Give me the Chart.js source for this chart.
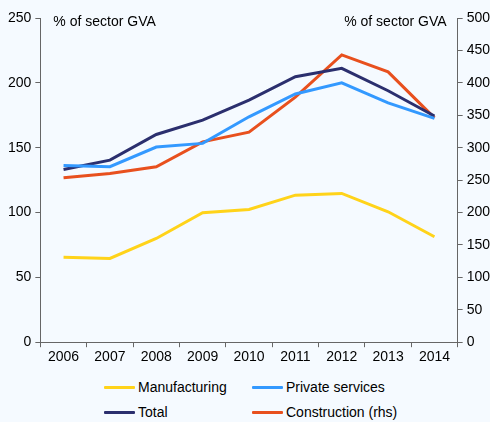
<!DOCTYPE html>
<html>
<head>
<meta charset="utf-8">
<script src="https://cdn.jsdelivr.net/npm/chart.js@4"></script>
<style>
  html, body { margin: 0; padding: 0; background: #f5faff; }
  body { width: 490px; height: 422px; overflow: hidden; font-family: "Liberation Sans", Arial, sans-serif; }
  #wrap { position: relative; width: 490px; height: 368px; }
  #legend { position: relative; width: 490px; height: 54px; font-size: 14px; color: #000; }
  .item { position: absolute; display: flex; align-items: center; }
  .swatch { width: 31px; height: 3px; margin-right: 3px; border-radius: 1px; }
</style>
</head>
<body>
<div id="wrap"><canvas id="chart" width="490" height="368"></canvas></div>
<div id="legend"></div>
<script>
const years = ["2006", "2007", "2008", "2009", "2010", "2011", "2012", "2013", "2014"];
const manufacturing = [65.6, 64.6, 80, 99.8, 102.4, 113.4, 114.7, 100.6, 81.3];
const privateServices = [136.3, 135.3, 150.5, 153.3, 173.8, 191.4, 200, 184.6, 172.6];
const total = [133.2, 140.4, 160.2, 171.3, 186.7, 204.7, 211.2, 193.9, 174.4];
const construction = [253.5, 260.3, 270.5, 309, 324, 378, 443, 417, 346]; // rhs

const legendItems = [
  { label: "Manufacturing", color: "#ffd31a", x: 104, y: 12 },
  { label: "Private services", color: "#3399ff", x: 252, y: 12 },
  { label: "Total", color: "#2b2f6e", x: 104, y: 37 },
  { label: "Construction (rhs)", color: "#e8501e", x: 252, y: 37 }
];

const FONT = { size: 14, family: "'Liberation Sans', Arial" };

const axisTitles = {
  id: "axisTitles",
  afterDraw(chart) {
    const ctx = chart.ctx;
    const a = chart.chartArea;
    ctx.save();
    ctx.font = "14px 'Liberation Sans', Arial, sans-serif";
    ctx.fillStyle = "#000";
    ctx.textBaseline = "middle";
    ctx.textAlign = "left";
    ctx.fillText("% of sector GVA", a.left + 13, a.top + 4);
    ctx.textAlign = "right";
    ctx.fillText("% of sector GVA", a.right - 11, a.top + 4);
    ctx.restore();
  }
};

function line(label, data, color, axis) {
  return {
    label: label, data: data, yAxisID: axis,
    borderColor: color, backgroundColor: color,
    borderWidth: 3, pointRadius: 0, tension: 0, fill: false
  };
}

new Chart(document.getElementById("chart"), {
  type: "line",
  data: {
    labels: years,
    datasets: [
      line("Manufacturing", manufacturing, "#ffd31a", "y"),
      line("Private services", privateServices, "#3399ff", "y"),
      line("Total", total, "#2b2f6e", "y"),
      line("Construction (rhs)", construction, "#e8501e", "y2")
    ]
  },
  options: {
    responsive: false,
    animation: false,
    layout: { padding: { left: 4, right: -4, top: 18, bottom: 0 } },
    plugins: { legend: { display: false }, tooltip: { enabled: false } },
    scales: {
      x: {
        offset: true,
        grid: { offset: true, drawOnChartArea: false, drawTicks: true, tickLength: 5, color: "#666" },
        border: { color: "#666", width: 1 },
        ticks: { color: "#000", font: FONT, padding: 2, maxRotation: 0 }
      },
      y: {
        position: "left", min: 0, max: 250,
        grid: { drawOnChartArea: false, drawTicks: true, tickLength: 5, color: "#666" },
        border: { color: "#666", width: 1 },
        ticks: { stepSize: 50, color: "#000", font: FONT, padding: 4 }
      },
      y2: {
        position: "right", min: 0, max: 500,
        grid: { drawOnChartArea: false, drawTicks: true, tickLength: 5, color: "#666" },
        border: { color: "#666", width: 1 },
        ticks: { stepSize: 50, color: "#000", font: FONT, padding: 4 }
      }
    }
  },
  plugins: [axisTitles]
});

const legend = document.getElementById("legend");
legendItems.forEach(function (it) {
  const d = document.createElement("div");
  d.className = "item";
  d.style.left = it.x + "px";
  d.style.top = (it.y - 1) + "px";
  d.innerHTML = '<span class="swatch" style="background:' + it.color + '"></span><span>' + it.label + "</span>";
  legend.appendChild(d);
});
</script>
</body>
</html>
